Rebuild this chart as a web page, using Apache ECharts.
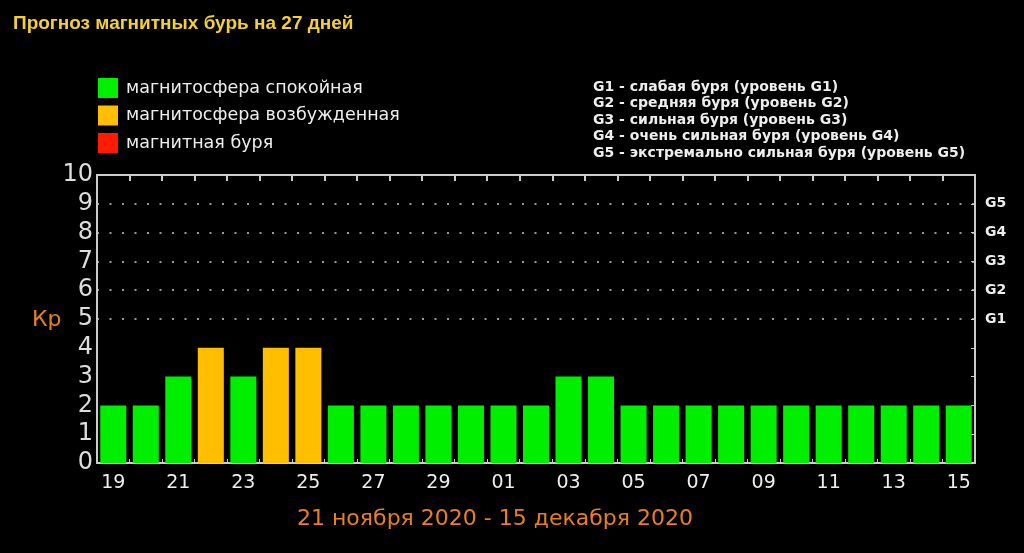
<!DOCTYPE html>
<html lang="ru">
<head>
    <meta charset="UTF-8">
    <title>Прогноз магнитных бурь</title>
    <script src="https://cdn.jsdelivr.net/npm/echarts@6/dist/echarts.min.js"></script>
    <style>
        html, body { margin: 0; padding: 0; background: #000; }
        #chart { width: 1024px; height: 553px; }
    </style>
</head>
<body>
<div id="chart"></div>
<script>
    // дни прогноза: 19 ноября .. 15 декабря
    var days = ['19', '20', '21', '22', '23', '24', '25', '26', '27', '28', '29', '30',
        '01', '02', '03', '04', '05', '06', '07', '08', '09', '10', '11', '12', '13', '14', '15'];
    var kp = [2, 2, 3, 4, 3, 4, 4, 2, 2, 2, 2, 2, 2, 2, 3, 3, 2, 2, 2, 2, 2, 2, 2, 2, 2, 2, 2];
    var kpTicks = [0, 1, 2, 3, 4, 5, 6, 7, 8, 9, 10];
    var gLevels = {5: 'G1', 6: 'G2', 7: 'G3', 8: 'G4', 9: 'G5'};
    var gNotes = [
        'G1 - слабая буря (уровень G1)',
        'G2 - средняя буря (уровень G2)',
        'G3 - сильная буря (уровень G3)',
        'G4 - очень сильная буря (уровень G4)',
        'G5 - экстремально сильная буря (уровень G5)'
    ];
    var names = ['магнитосфера спокойная', 'магнитосфера возбужденная', 'магнитная буря'];
    var colors = ['#00ee00', '#ffbf00', '#ff1a00'];
    var period = '21 ноября 2020 - 15 декабря 2020';

    // раскладываем значения по трём состояниям
    var quiet = kp.map(function(v) { return v < 4 ? v : '-'; });
    var active = kp.map(function(v) { return v === 4 ? v : '-'; });
    var storm = kp.map(function(v) { return v >= 5 ? v : '-'; });

    var chart = echarts.init(document.getElementById('chart'));
    var font = '"DejaVu Sans", Verdana, sans-serif';

    function barSeries(name, data, color) {
        return {
            name: name,
            type: 'bar',
            stack: 'kp',
            data: data,
            barCategoryGap: '20%',
            itemStyle: { color: color },
            silent: true
        };
    }

    var series = [
        barSeries(names[0], quiet, colors[0]),
        barSeries(names[1], active, colors[1]),
        barSeries(names[2], storm, colors[2])
    ];
    // точечные линии уровней G1..G5
    series[0].markLine = {
        silent: true,
        symbol: 'none',
        label: { show: false },
        lineStyle: { color: '#ccc', type: [2, 10.5], width: 1.5 },
        data: Object.keys(gLevels).map(function(k) { return { yAxis: +k }; })
    };

    var option = {
        backgroundColor: '#000',
        animation: false,
        title: {
            text: 'Прогноз магнитных бурь на 27 дней',
            left: 8, top: 9,
            textStyle: { color: '#f5d22a', fontSize: 19, fontWeight: 'bold', fontFamily: 'Arial, "Liberation Sans", sans-serif' }
        },
        legend: {
            orient: 'vertical',
            left: 93, top: 73,
            itemWidth: 20, itemHeight: 20, itemGap: 7.5,
            icon: 'rect',
            selectedMode: false,
            textStyle: { color: '#eee', fontSize: 17.5, fontFamily: font, padding: [0, 0, 0, 3] },
            data: names
        },
        graphic: [{
            type: 'text',
            left: 593, top: 79,
            style: {
                text: gNotes.join('\n'),
                fill: '#eee',
                font: 'bold 14px ' + font,
                lineHeight: 16.5
            }
        }, {
            type: 'text',
            left: 32, top: 309,
            style: { text: 'Кр', fill: '#e8801c', font: '22px ' + font }
        }, {
            type: 'text',
            left: 297, top: 508,
            style: {
                text: period,
                fill: '#e8801c',
                font: '22px ' + font
            }
        }],
        grid: { left: 97, right: 49, top: 175, bottom: 90 },
        xAxis: [{
            type: 'category',
            data: days,
            position: 'bottom',
            axisLine: { onZero: false, lineStyle: { color: '#ccc', width: 2 } },
            axisTick: { show: true, inside: true, length: 4, interval: 0, lineStyle: { color: '#ccc' } },
            axisLabel: { color: '#eee', fontSize: 19, fontFamily: font, interval: 1, margin: 11 }
        }, {
            type: 'category',
            data: days,
            position: 'top',
            axisLine: { onZero: false, lineStyle: { color: '#ccc', width: 2 } },
            axisTick: { show: true, inside: true, length: 6, interval: 0, lineStyle: { color: '#ccc', width: 2 } },
            axisLabel: { show: false }
        }],
        yAxis: [{
            type: 'value',
            min: kpTicks[0], max: kpTicks[kpTicks.length - 1], interval: 1,
            axisLine: { show: true, lineStyle: { color: '#ccc', width: 2 } },
            axisTick: { show: false },
            splitLine: { show: false },
            axisLabel: { color: '#ddd', fontSize: 24, fontFamily: font, margin: 4 }
        }, {
            type: 'value',
            min: kpTicks[0], max: kpTicks[kpTicks.length - 1], interval: 1,
            position: 'right',
            axisLine: { show: true, lineStyle: { color: '#ccc', width: 2 } },
            axisTick: { show: true, inside: true, length: 4, lineStyle: { color: '#ccc' } },
            splitLine: { show: false },
            axisLabel: {
                color: '#eee', fontSize: 14, fontWeight: 'bold', fontFamily: font, margin: 10,
                formatter: function(v) { return gLevels[v] || ''; }
            }
        }],
        series: series
    };
    chart.setOption(option);
</script>
</body>
</html>
